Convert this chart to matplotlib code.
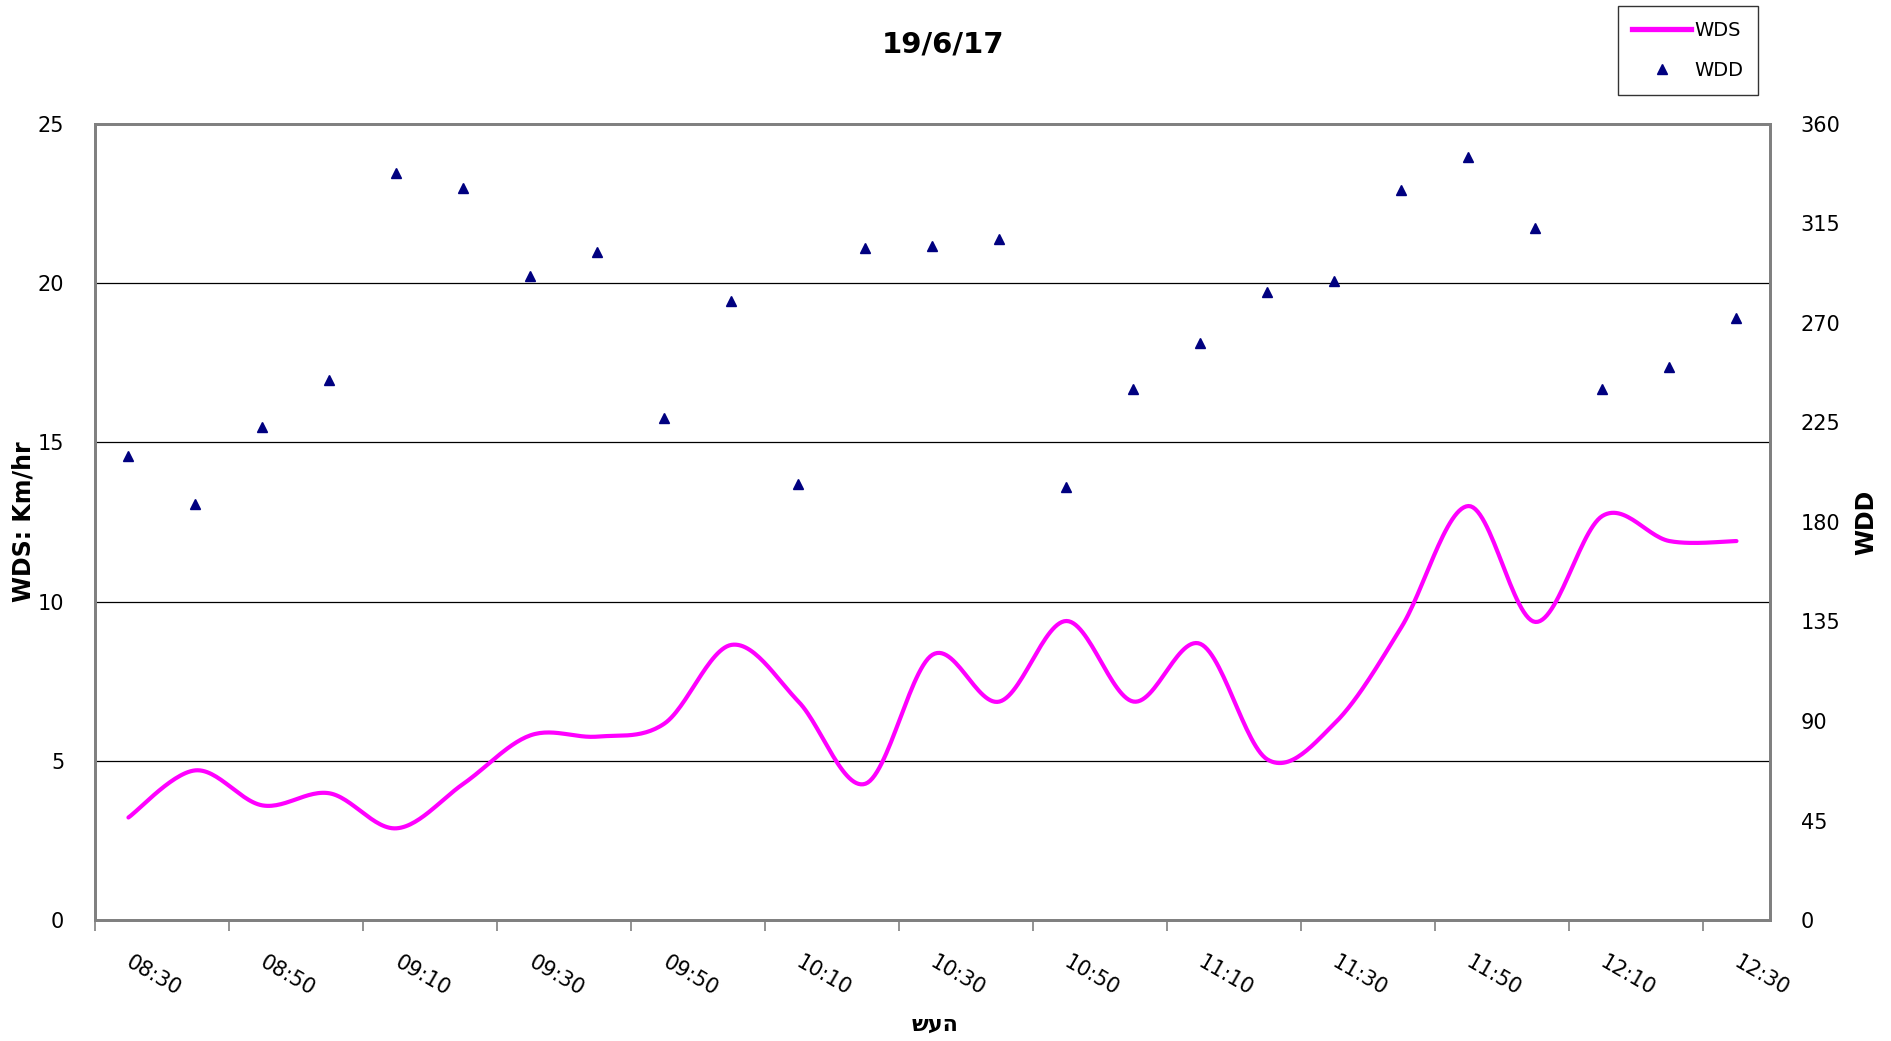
import matplotlib
matplotlib.use("Agg")
import matplotlib.pyplot as plt
import numpy as np
from matplotlib.lines import Line2D

times = ["08:30","08:40","08:50","09:00","09:10","09:20","09:30","09:40","09:50","10:00",
         "10:10","10:20","10:30","10:40","10:50","11:00","11:10","11:20","11:30","11:40",
         "11:50","12:00","12:10","12:20","12:30"]
wds = [3.22, 4.7, 3.6, 3.98, 2.88, 4.28, 5.8, 5.76, 6.17, 8.64,
       6.86, 4.28, 8.33, 6.86, 9.39, 6.86, 8.67, 5.04, 6.17, 9.2,
       13.0, 9.36, 12.69, 11.9, 11.9]
wdd = [210, 188, 223, 244, 338, 331, 291, 302, 227, 280,
       197, 304, 305, 308, 196, 240, 261, 284, 289, 330,
       345, 313, 240, 250, 272]

plt.rcParams['font.family'] = ['DejaVu Sans']

fig = plt.figure(figsize=(18.91, 10.41), dpi=100)
ax = fig.add_axes([0.0502, 0.1162, 0.8858, 0.7648])
ax2 = ax.twinx()

n = len(times)
x = np.arange(n)

# Excel-like smoothed line (cubic Bezier with Catmull-Rom control points)
def smooth(xs, ys, steps=30):
    P = np.column_stack([xs, ys]).astype(float)
    out = [P[0]]
    for i in range(len(P) - 1):
        p0 = P[i - 1] if i > 0 else P[i]
        p1 = P[i]
        p2 = P[i + 1]
        p3 = P[i + 2] if i + 2 < len(P) else P[i + 1]
        c1 = p1 + (p2 - p0) / 6.0
        c2 = p2 - (p3 - p1) / 6.0
        t = np.linspace(0, 1, steps)[1:, None]
        seg = ((1 - t) ** 3) * p1 + 3 * ((1 - t) ** 2) * t * c1 + 3 * (1 - t) * t ** 2 * c2 + t ** 3 * p2
        out.extend(seg)
    out = np.array(out)
    return out[:, 0], out[:, 1]

sx, sy = smooth(x, wds)
ax.plot(sx, sy, color='#FF00FF', lw=3.0, solid_capstyle='round', zorder=3)
ax2.plot(x, wdd, linestyle='none', marker='^', color='#000080', markersize=6.5, zorder=4)

ax.set_xlim(-0.5, n - 0.5)
ax.set_ylim(0, 25)
ax2.set_ylim(0, 360)
ax.set_yticks([0, 5, 10, 15, 20, 25])
ax2.set_yticks(np.arange(0, 361, 45))

for yv in [5, 10, 15, 20]:
    ax.axhline(yv, color='black', lw=0.9, zorder=1)

# x ticks: marks between categories every 2, labels every 2 categories
ax.set_xticks(np.arange(-0.5, n - 1, 2))
ax.set_xticklabels([])
ax.tick_params(axis='x', which='major', length=8, width=1.2, color='#808080', direction='out')
for i in range(0, n, 2):
    ax.text(i + 0.07, -1.0, times[i], rotation=-30, ha='left', va='top',
            rotation_mode='anchor', fontsize=15)

ax.tick_params(axis='y', length=0, labelsize=15, pad=22)
ax2.tick_params(axis='y', length=0, labelsize=15, pad=22)

for a in (ax, ax2):
    for s in a.spines.values():
        s.set_color('#808080')
        s.set_linewidth(2)

ax.set_ylabel('WDS: Km/hr', fontsize=17, fontweight='bold', labelpad=2)
ax2.set_ylabel('WDD', fontsize=17, fontweight='bold', labelpad=10)
fig.text(0.4945, 0.0155, 'שעה', ha='center', va='center', fontsize=16, fontweight='bold')
fig.text(0.4987, 0.957, '19/6/17', ha='center', va='center', fontsize=21, fontweight='bold')

handles = [Line2D([0], [0], color='#FF00FF', lw=3.8),
           Line2D([0], [0], linestyle='none', marker='^', color='#000080', markersize=7)]
leg = fig.legend(handles, ['WDS', 'WDD'], loc='upper left', bbox_to_anchor=(0.8555, 0.994),
                 borderaxespad=0, frameon=True, fancybox=False, edgecolor='black', fontsize=14,
                 handlelength=3.0, handletextpad=0.2, labelspacing=1.1, borderpad=0.75)
leg.get_frame().set_linewidth(1.0)

fig.savefig('out.png', dpi=100)
